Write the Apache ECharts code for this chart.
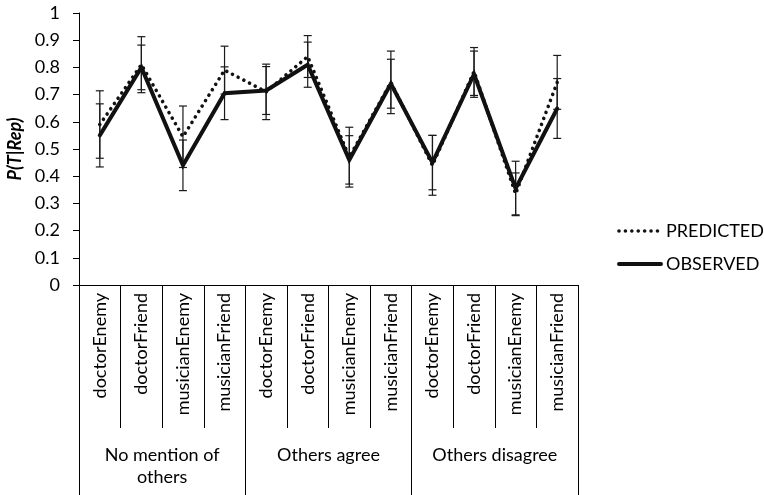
<!DOCTYPE html>
<html>
<head>
<meta charset="utf-8">
<script src="https://cdn.jsdelivr.net/npm/echarts@6/dist/echarts.min.js"></script>
<style>
  html, body { margin: 0; padding: 0; background: #fff; }
  #chart { width: 764px; height: 495px; }
</style>
</head>
<body>
<div id="chart"></div>
<script>
// Conditions (inner level) and context groups (outer level)
const categories = [
  'doctorEnemy', 'doctorFriend', 'musicianEnemy', 'musicianFriend',
  'doctorEnemy', 'doctorFriend', 'musicianEnemy', 'musicianFriend',
  'doctorEnemy', 'doctorFriend', 'musicianEnemy', 'musicianFriend'
];
const groups = ['No mention of\nothers', 'Others agree', 'Others disagree'];

// P(T|Rep) means and error half-widths
const predicted    = [0.59, 0.81, 0.545, 0.79, 0.71, 0.84, 0.47, 0.745, 0.44, 0.785, 0.335, 0.745];
const predictedErr = [0.124, 0.103, 0.113, 0.088, 0.102, 0.077, 0.11, 0.115, 0.11, 0.088, 0.077, 0.099];
const observed     = [0.55, 0.80, 0.44, 0.705, 0.715, 0.81, 0.46, 0.74, 0.45, 0.775, 0.355, 0.649];
const observedErr  = [0.116, 0.082, 0.093, 0.097, 0.088, 0.083, 0.089, 0.09, 0.1, 0.085, 0.1, 0.11];

const FONT = 'Lato';
const INK = '#000';
const DOTTED = [0.01, 6.4];

function errorBars(name, values, errs) {
  return {
    type: 'custom',
    name: name,
    xAxisIndex: 0,
    yAxisIndex: 0,
    silent: true,
    z: 1,
    data: values.map((v, i) => [i, v - errs[i], v + errs[i]]),
    encode: { x: 0, y: [1, 2] },
    renderItem(params, api) {
      const lo = api.coord([api.value(0), api.value(1)]);
      const hi = api.coord([api.value(0), api.value(2)]);
      const cap = 4;
      const style = { stroke: '#1a1a1a', lineWidth: 1.2 };
      return {
        type: 'group',
        children: [
          { type: 'line', shape: { x1: lo[0], y1: lo[1], x2: hi[0], y2: hi[1] }, style },
          { type: 'line', shape: { x1: lo[0] - cap, y1: lo[1], x2: lo[0] + cap, y2: lo[1] }, style },
          { type: 'line', shape: { x1: hi[0] - cap, y1: hi[1], x2: hi[0] + cap, y2: hi[1] }, style }
        ]
      };
    }
  };
}

const chart = echarts.init(document.getElementById('chart'), null, { renderer: 'canvas' });

chart.setOption({
  animation: false,
  backgroundColor: '#fff',
  textStyle: { fontFamily: FONT, color: INK },
  grid: { left: 79, right: 186, top: 13, bottom: 210, containLabel: false, outerBoundsMode: 'none' },
  legend: {
    data: [
      { name: 'PREDICTED', lineStyle: { width: 3.6, type: DOTTED, cap: 'round' } },
      { name: 'OBSERVED', lineStyle: { width: 4 } }
    ],
    orient: 'vertical',
    left: 612,
    top: 217,
    itemWidth: 42,
    itemHeight: 14,
    itemGap: 15,
    itemStyle: { opacity: 0 },
    textStyle: { fontFamily: FONT, fontSize: 18, color: INK }
  },
  xAxis: [
    {
      type: 'category',
      data: categories,
      position: 'bottom',
      boundaryGap: true,
      axisLine: { show: true, lineStyle: { color: INK, width: 1 } },
      axisTick: { show: true, interval: 0, length: 143, lineStyle: { color: INK, width: 1 } },
      axisLabel: { interval: 0, rotate: 90, margin: 8, fontSize: 18, color: INK, fontFamily: FONT },
      splitLine: { show: false }
    },
    {
      type: 'category',
      data: groups,
      position: 'bottom',
      offset: 143,
      boundaryGap: true,
      axisLine: { show: false },
      axisTick: { show: true, interval: 0, length: 70, lineStyle: { color: INK, width: 1 } },
      axisLabel: { interval: 0, margin: 16, fontSize: 18, lineHeight: 22, color: INK, fontFamily: FONT },
      splitLine: { show: false }
    }
  ],
  yAxis: {
    type: 'value',
    min: 0,
    max: 1,
    interval: 0.1,
    name: 'P(T|Rep)',
    nameLocation: 'middle',
    nameRotate: 90,
    nameGap: 50,
    nameTextStyle: { fontFamily: FONT, fontSize: 18, fontWeight: 'bold', fontStyle: 'italic', color: INK },
    axisLine: { show: true, lineStyle: { color: INK, width: 1 } },
    axisTick: { show: true, length: 6, lineStyle: { color: INK, width: 1 } },
    axisLabel: { margin: 19, fontSize: 18, color: INK, fontFamily: FONT },
    splitLine: { show: false }
  },
  series: [
    errorBars('PREDICTED error', predicted, predictedErr),
    errorBars('OBSERVED error', observed, observedErr),
    {
      name: 'PREDICTED',
      type: 'line',
      data: predicted,
      symbol: 'none',
      z: 3,
      lineStyle: { color: '#111', width: 3.6, type: DOTTED, cap: 'round' },
      itemStyle: { color: '#111' }
    },
    {
      name: 'OBSERVED',
      type: 'line',
      data: observed,
      symbol: 'none',
      z: 4,
      lineStyle: { color: '#111', width: 4, cap: 'round', join: 'miter' },
      itemStyle: { color: '#111' }
    }
  ]
});
</script>
</body>
</html>
